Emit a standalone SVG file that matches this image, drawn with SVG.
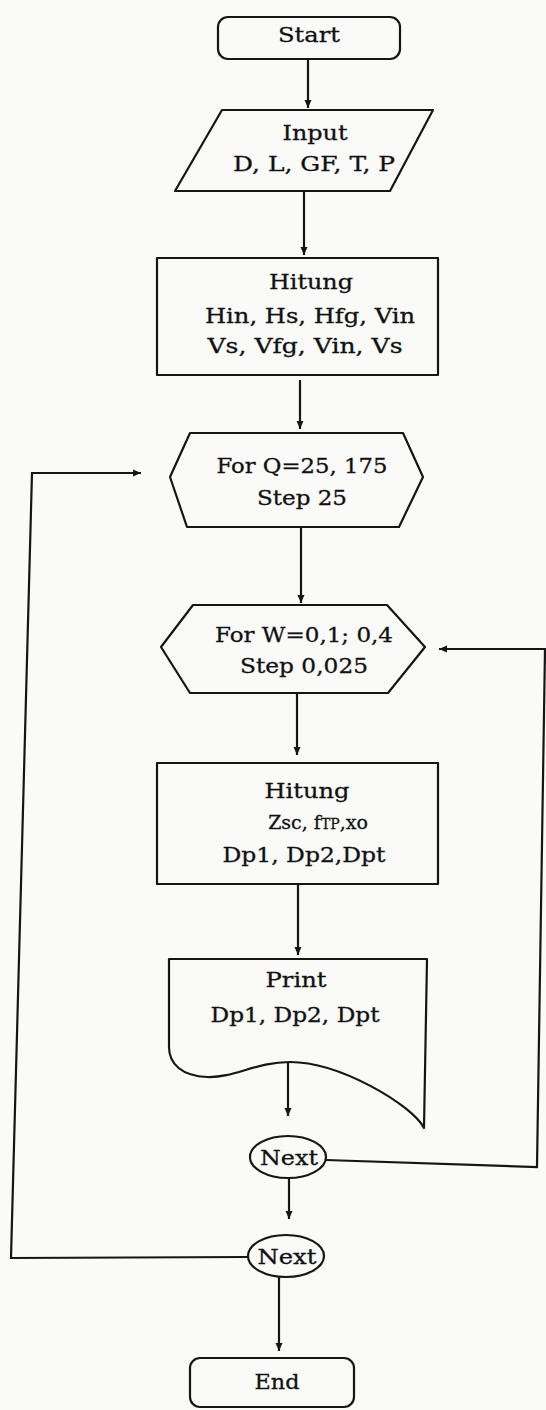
<svg xmlns="http://www.w3.org/2000/svg" width="546" height="1410" viewBox="0 0 546 1410">
<style>
.n{fill:#fafaf8;stroke:#151515;stroke-width:2.2;stroke-linejoin:round}
.c{fill:none;stroke:#151515;stroke-width:2.2}
text{font-family:"DejaVu Serif","Liberation Serif",serif;font-size:21px;fill:#111;stroke:#111;stroke-width:0.3;text-anchor:middle}
.z{font-size:19px}
.sm{font-size:14px}
</style>
<defs>
<marker id="ah" markerUnits="userSpaceOnUse" markerWidth="10" markerHeight="10" viewBox="0 0 10 10" refX="9" refY="5" orient="auto">
<path d="M1,1.5 L9,5 L1,8.5 Z" fill="#151515"/>
</marker>
</defs>
<rect x="0" y="0" width="546" height="1410" fill="#fafaf8"/>
<g id="connectors">
<line class="c" x1="308" y1="59" x2="308" y2="108" marker-end="url(#ah)"/>
<line class="c" x1="304" y1="191" x2="304" y2="255" marker-end="url(#ah)"/>
<line class="c" x1="300" y1="380" x2="300" y2="429" marker-end="url(#ah)"/>
<line class="c" x1="301" y1="527" x2="301" y2="603" marker-end="url(#ah)"/>
<line class="c" x1="297" y1="693" x2="297" y2="755" marker-end="url(#ah)"/>
<line class="c" x1="298" y1="884" x2="298" y2="955" marker-end="url(#ah)"/>
<line class="c" x1="288" y1="1062" x2="288" y2="1116" marker-end="url(#ah)"/>
<line class="c" x1="289" y1="1178" x2="289" y2="1219" marker-end="url(#ah)"/>
<line class="c" x1="279" y1="1277" x2="279" y2="1351" marker-end="url(#ah)"/>
<polyline class="c" points="326,1160 537,1167 545,649 439,649" marker-end="url(#ah)"/>
<polyline class="c" points="248,1257 11,1258 32,473 141,473" marker-end="url(#ah)"/>
</g>
<g id="start">
<rect class="n" x="218" y="17" width="182" height="42" rx="10"/>
<text x="309" y="42" textLength="62" lengthAdjust="spacingAndGlyphs">Start</text>
</g>
<g id="input">
<polygon class="n" points="222,110 433,110 390,191 175,191"/>
<text x="315" y="140" textLength="65" lengthAdjust="spacingAndGlyphs">Input</text>
<text x="314" y="171" textLength="162" lengthAdjust="spacingAndGlyphs">D, L, GF, T, P</text>
</g>
<g id="hitung1">
<rect class="n" x="157" y="258" width="281" height="117"/>
<text x="311" y="289" textLength="84" lengthAdjust="spacingAndGlyphs">Hitung</text>
<text x="310" y="323" textLength="210" lengthAdjust="spacingAndGlyphs">Hin, Hs, Hfg, Vin</text>
<text x="305" y="353" textLength="195" lengthAdjust="spacingAndGlyphs">Vs, Vfg, Vin, Vs</text>
</g>
<g id="forQ">
<polygon class="n" points="190,433 403,433 423,477 399,527 187,527 170,477"/>
<text x="302" y="473" textLength="171" lengthAdjust="spacingAndGlyphs">For Q=25, 175</text>
<text x="302" y="505" textLength="90" lengthAdjust="spacingAndGlyphs">Step 25</text>
</g>
<g id="forW">
<polygon class="n" points="193,605 387,605 425,647 388,693 190,693 161,647"/>
<text x="304" y="642" textLength="178" lengthAdjust="spacingAndGlyphs">For W=0,1; 0,4</text>
<text x="304" y="673" textLength="128" lengthAdjust="spacingAndGlyphs">Step 0,025</text>
</g>
<g id="hitung2">
<rect class="n" x="157" y="763" width="281" height="121"/>
<text x="307" y="798" textLength="85" lengthAdjust="spacingAndGlyphs">Hitung</text>
<text class="z" x="318" y="829">Zsc, f<tspan class="sm">TP</tspan>,xo</text>
<text x="304" y="862" textLength="163" lengthAdjust="spacingAndGlyphs">Dp1, Dp2,Dpt</text>
</g>
<g id="print">
<path class="n" d="M169,959 L427,959 L424,1128 C412,1105 340,1062 290,1062 C255,1062 235,1078 207,1077 C182,1076 169,1064 169,1047 Z"/>
<text x="296" y="987" textLength="61" lengthAdjust="spacingAndGlyphs">Print</text>
<text x="295" y="1022" textLength="169" lengthAdjust="spacingAndGlyphs">Dp1, Dp2, Dpt</text>
</g>
<g id="next1">
<ellipse class="n" cx="288" cy="1157" rx="38" ry="21"/>
<text x="289" y="1165" textLength="58" lengthAdjust="spacingAndGlyphs">Next</text>
</g>
<g id="next2">
<ellipse class="n" cx="286" cy="1256" rx="38" ry="21"/>
<text x="287" y="1264" textLength="59" lengthAdjust="spacingAndGlyphs">Next</text>
</g>
<g id="end">
<rect class="n" x="190" y="1358" width="164" height="49" rx="10"/>
<text x="277" y="1389" textLength="45" lengthAdjust="spacingAndGlyphs">End</text>
</g>
</svg>
